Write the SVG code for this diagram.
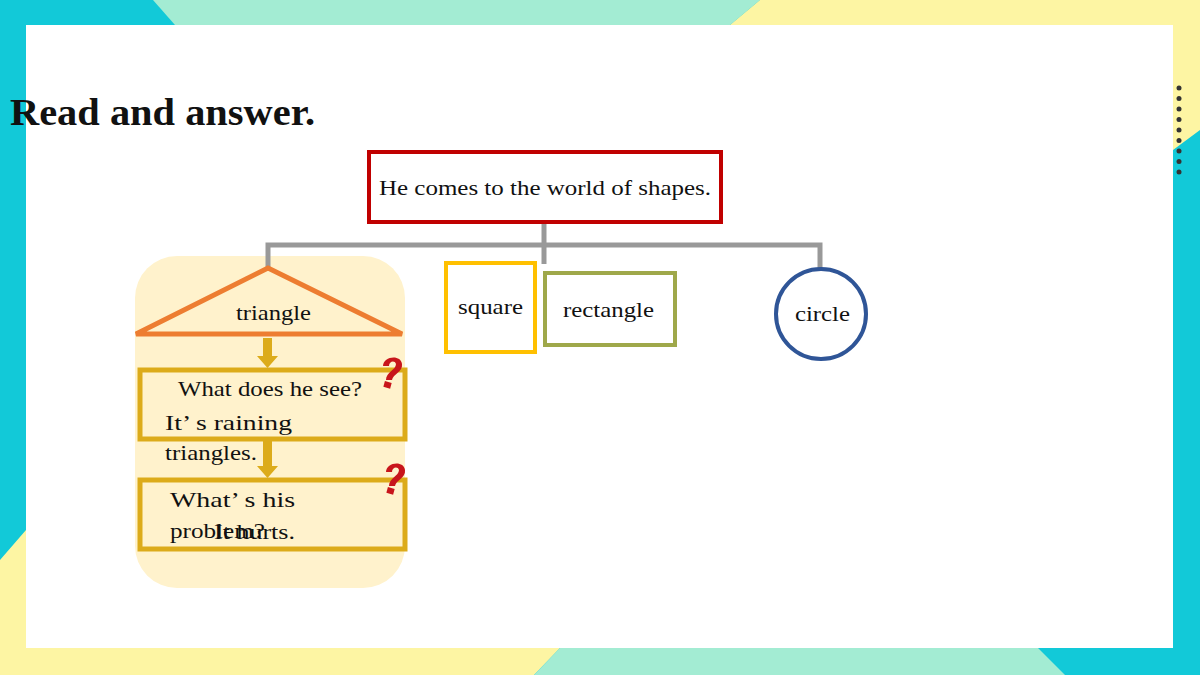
<svg xmlns="http://www.w3.org/2000/svg" width="1200" height="675" viewBox="0 0 1200 675">
<style>
text{font-family:"Liberation Serif",serif;fill:#111}
.t{font-size:22px}
.conn{stroke:#999;stroke-width:5;fill:none}
.arr{fill:#dcab1a}
</style>
<defs>
<g id="q"><path d="M-8,-6 C-8,-16 10,-18 11,-8 C12,0 2,2 1,8 L-5,8 C-5,0 5,-2 5,-8 C4,-12 -2,-11 -2,-6 Z" fill="#c8151b"/><rect x="-7" y="10" width="7" height="6" fill="#c8151b" transform="rotate(15 -3 13)"/></g>
</defs>
<rect width="1200" height="675" fill="#12c9d8"/>
<polygon points="153,0 760,0 730,25 175,25" fill="#a3ecd3"/>
<polygon points="760,0 1200,0 1200,130 1173,150 1173,25 730,25" fill="#fdf5a3"/>
<polygon points="0,560 26,530 26,648 560,648 534,675 0,675" fill="#fdf5a3"/>
<polygon points="560,648 1038,648 1065,675 534,675" fill="#a3ecd3"/>
<rect x="26" y="25" width="1147" height="623" fill="#fff"/>
<g fill="#333"><circle cx="1179" cy="88" r="2.5"/><circle cx="1179" cy="98.5" r="2.5"/><circle cx="1179" cy="109" r="2.5"/><circle cx="1179" cy="119.5" r="2.5"/><circle cx="1179" cy="130" r="2.5"/><circle cx="1179" cy="140.5" r="2.5"/><circle cx="1179" cy="151" r="2.5"/><circle cx="1179" cy="161.5" r="2.5"/><circle cx="1179" cy="172" r="2.5"/></g>
<text x="10" y="125" style="font-size:37px;font-weight:bold" textLength="305" lengthAdjust="spacingAndGlyphs">Read and answer.</text>
<rect x="135" y="256" width="270" height="332" rx="42" fill="#fff2cc"/>
<g id="connectors">
<path class="conn" d="M544,222 V264 M268,268 V245 H820 V270"/>
<polygon class="arr" points="263,338 272,338 272,356 278,356 267.5,368 257,356 263,356"/>
<polygon class="arr" points="263,440 272,440 272,466 278,466 267.5,478 257,466 263,466"/>
</g>
<g id="root"><rect x="369" y="152" width="352" height="70" fill="#fff" stroke="#c00000" stroke-width="4"/><text class="t" x="379" y="195" textLength="332" lengthAdjust="spacingAndGlyphs">He comes to the world of shapes.</text></g>
<g id="triangle"><polygon points="268,268 402,334 136,334" fill="none" stroke="#ed7d31" stroke-width="5"/><text class="t" x="236" y="320" textLength="75" lengthAdjust="spacingAndGlyphs">triangle</text></g>
<g id="square"><rect x="446" y="263" width="89" height="89" fill="#fff" stroke="#ffc000" stroke-width="4"/><text class="t" x="458" y="314" textLength="65" lengthAdjust="spacingAndGlyphs">square</text></g>
<g id="rectangle"><rect x="545" y="273" width="130" height="72" fill="#fff" stroke="#9fa84a" stroke-width="4"/><text class="t" x="563" y="317" textLength="91" lengthAdjust="spacingAndGlyphs">rectangle</text></g>
<g id="circle"><circle cx="821" cy="314" r="45" fill="#fff" stroke="#2f5597" stroke-width="4"/><text class="t" x="795" y="321" textLength="55" lengthAdjust="spacingAndGlyphs">circle</text></g>
<g id="q1"><rect x="140" y="370" width="265" height="69" fill="none" stroke="#dcab1a" stroke-width="5"/><text class="t" x="178" y="396" textLength="184" lengthAdjust="spacingAndGlyphs">What does he see?</text><text class="t" x="165" y="430" textLength="127" lengthAdjust="spacingAndGlyphs">It’ s raining</text><text class="t" x="165" y="460" textLength="92" lengthAdjust="spacingAndGlyphs">triangles.</text><use href="#q" x="391" y="372"/></g>
<g id="q2"><rect x="140" y="480" width="265" height="69" fill="none" stroke="#dcab1a" stroke-width="5"/><text class="t" x="170" y="507" textLength="125" lengthAdjust="spacingAndGlyphs">What’ s his</text><text class="t" x="170" y="538" textLength="95" lengthAdjust="spacingAndGlyphs">problem?</text><text class="t" x="214" y="539" textLength="81" lengthAdjust="spacingAndGlyphs">It hurts.</text><use href="#q" x="394" y="478"/></g>
</svg>
